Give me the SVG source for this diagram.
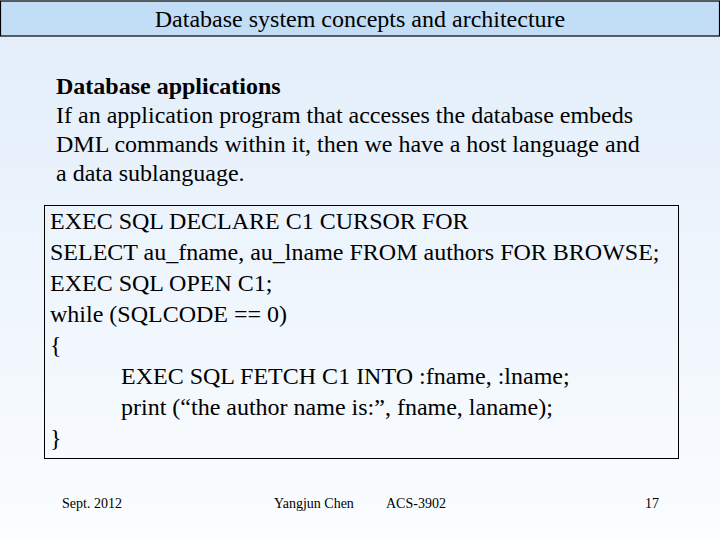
<svg xmlns="http://www.w3.org/2000/svg" width="720" height="540" viewBox="0 0 720 540" font-family="'Liberation Serif','Times New Roman',serif">
<defs>
<linearGradient id="bg" x1="0" y1="0" x2="0" y2="1">
<stop offset="0" stop-color="#E1EDFA"/>
<stop offset="1" stop-color="#FBFDFF"/>
</linearGradient>
<style>
text{font-family:'Liberation Serif','Times New Roman',serif;fill:#000}
.p{font-size:24px}
.c{font-size:24px}
.f{font-size:14px}
</style>
</defs>
<rect width="720" height="540" fill="url(#bg)"/>
<g id="title">
<rect x="0.5" y="1" width="719" height="35" fill="#C2DEF6" stroke="#000" stroke-width="1.2"/>
<text x="360" y="27" text-anchor="middle" font-size="24">Database system concepts and architecture</text>
</g>
<g id="intro">
<text x="56" y="94" font-weight="bold" class="p">Database applications</text>
<text x="56" y="123" class="p">If an application program that accesses the database embeds</text>
<text x="56" y="152" class="p">DML commands within it, then we have a host language and</text>
<text x="56" y="181" class="p">a data sublanguage.</text>
</g>
<g id="code">
<rect x="44.5" y="205.5" width="634" height="253" fill="none" stroke="#000" stroke-width="1"/>
<text x="50" y="229" class="c">EXEC SQL DECLARE C1 CURSOR FOR</text>
<text x="50" y="260" class="c">SELECT au_fname, au_lname FROM authors FOR BROWSE;</text>
<text x="50" y="291" class="c">EXEC SQL OPEN C1;</text>
<text x="50" y="322" class="c">while (SQLCODE == 0)</text>
<text x="50" y="353" class="c">{</text>
<text x="121" y="384" class="c">EXEC SQL FETCH C1 INTO :fname, :lname;</text>
<text x="121" y="415" class="c">print (“the author name is:”, fname, laname);</text>
<text x="50" y="446" class="c">}</text>
</g>
<g id="footer">
<text x="62" y="508" class="f">Sept. 2012</text>
<text x="274" y="508" class="f">Yangjun Chen</text>
<text x="386" y="508" class="f">ACS-3902</text>
<text x="659" y="508" text-anchor="end" class="f">17</text>
</g>
</svg>
